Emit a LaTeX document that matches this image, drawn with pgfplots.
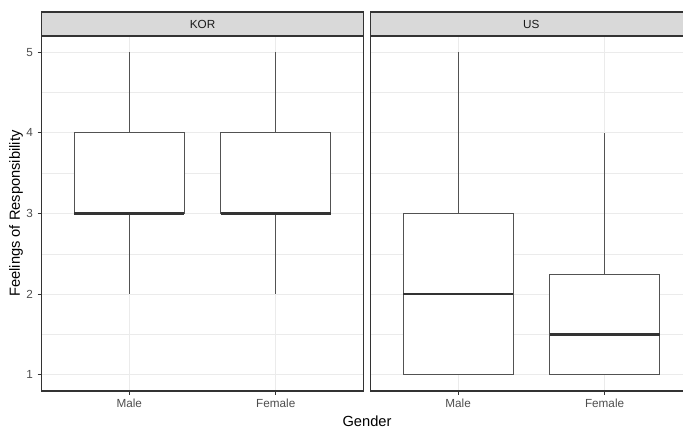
\documentclass[border=0pt]{standalone}
\usepackage{fontspec}
\setmainfont{Liberation Sans}
\usepackage{pgfplots}
\pgfplotsset{compat=1.18}
\usepgfplotslibrary{statistics}
\definecolor{gridc}{HTML}{EBEBEB}
\definecolor{g20}{HTML}{333333}
\definecolor{g30}{HTML}{4D4D4D}
\definecolor{g10}{HTML}{1A1A1A}
\definecolor{stripc}{HTML}{D9D9D9}
\pgfplotsset{
 facet/.style={
  scale only axis, width=241.7pt, height=266.25pt,
  anchor=south west,
  xmin=0.4, xmax=2.6, ymin=0.8, ymax=5.2,
  xtick={1,2}, xticklabels={Male,Female},
  ytick={1,2,3,4,5}, minor ytick={1.5,2.5,3.5,4.5},
  grid=both,
  major grid style={draw=gridc, line width=0.8pt},
  minor grid style={draw=gridc, line width=0.4pt},
  axis line style={draw=g20, line width=0.8pt},
  tick align=outside, xtick pos=left, ytick pos=left,
  major tick length=2.75pt, minor tick length=0pt,
  tick style={draw=g20, line width=0.6pt},
  tick label style={font=\fontsize{8.8}{10}\selectfont, text=g30},
  /pgf/number format/assume math mode=true,
  boxplot/draw direction=y,
 },
 bx/.style={draw=g20!85!white, line width=0.55pt, fill=white},
}
\begin{document}
\begin{tikzpicture}
\begin{axis}[facet, name=ax1, at={(31.05pt,28.5pt)}]
\addplot[bx, boxplot prepared={draw position=1, median=3, lower quartile=3, upper quartile=4, lower whisker=2, upper whisker=5, box extend=0.75, whisker extend=0, every median/.style={draw=g20, line width=1.7pt}}] coordinates {};
\addplot[bx, boxplot prepared={draw position=2, median=3, lower quartile=3, upper quartile=4, lower whisker=2, upper whisker=5, box extend=0.75, whisker extend=0, every median/.style={draw=g20, line width=1.7pt}}] coordinates {};
\end{axis}
\begin{axis}[facet, name=ax2, at={(277.65pt,28.5pt)}, yticklabels={}, ytick style={draw=none}]
\addplot[bx, boxplot prepared={draw position=1, median=2, lower quartile=1, upper quartile=3, lower whisker=1, upper whisker=5, box extend=0.75, whisker extend=0, every median/.style={draw=g20, line width=1.7pt}}] coordinates {};
\addplot[bx, boxplot prepared={draw position=2, median=1.5, lower quartile=1, upper quartile=2.25, lower whisker=1, upper whisker=4, box extend=0.75, whisker extend=0, every median/.style={draw=g20, line width=1.7pt}}] coordinates {};
\end{axis}
\draw[draw=g20, fill=stripc, line width=0.8pt] (ax1.north west) rectangle ([yshift=18pt]ax1.north east);
\node[font=\fontsize{8.8}{10}\selectfont, text=g10] at ([yshift=9pt]ax1.north) {KOR};
\draw[draw=g20, fill=stripc, line width=0.8pt] (ax2.north west) rectangle ([yshift=18pt]ax2.north east);
\node[font=\fontsize{8.8}{10}\selectfont, text=g10] at ([yshift=9pt]ax2.north) {US};
\node[font=\fontsize{11}{13}\selectfont, rotate=90] at (12pt,161.6pt) {Feelings of Responsibility};
\node[font=\fontsize{11}{13}\selectfont] at (275.25pt,6pt) {Gender};
\pgfresetboundingbox
\path (0,0) rectangle (512.25pt,321.75pt);
\end{tikzpicture}
\end{document}
